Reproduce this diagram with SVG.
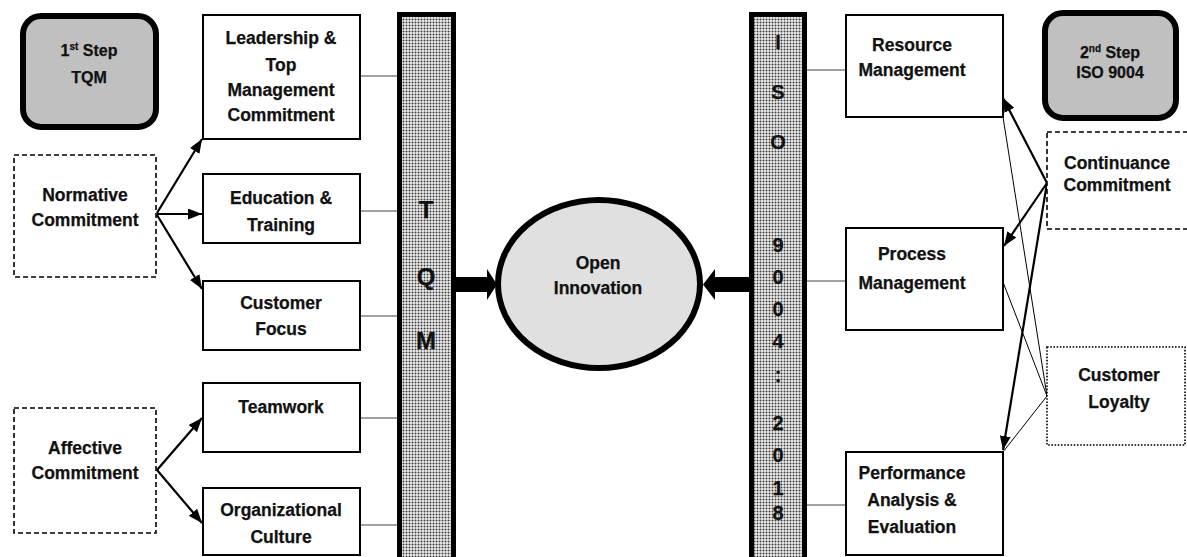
<svg xmlns="http://www.w3.org/2000/svg" width="1187" height="557" viewBox="0 0 1187 557">
<defs>
<pattern id="dots" width="3" height="3" patternUnits="userSpaceOnUse"><rect width="3" height="3" fill="#eeeeee"/><circle cx="1.5" cy="1.5" r="1" fill="#3a3a3a"/></pattern>
<marker id="ah" viewBox="0 0 14 11" refX="14" refY="5.5" markerWidth="14" markerHeight="11" markerUnits="userSpaceOnUse" orient="auto"><path d="M0,0 L14,5.5 L0,11 z" fill="#000"/></marker>
</defs>
<style>
text{font-family:"Liberation Sans",Arial,sans-serif;font-weight:bold;font-size:17.5px;text-anchor:middle;fill:#111;stroke:#111;stroke-width:0.25}
.box{fill:#fff;stroke:#000;stroke-width:2}
.dash{fill:#fff;stroke:#000;stroke-width:1.6;stroke-dasharray:5,3}
.dot{fill:#fff;stroke:#000;stroke-width:1.6;stroke-dasharray:1.6,1.6}
.step{fill:#c0c0c0;stroke:#000;stroke-width:6}
.bar{fill:url(#dots);stroke:#000;stroke-width:5}
.tie{stroke:#444;stroke-width:1.2;fill:none}
.arr{stroke:#000;stroke-width:2.2;fill:none;marker-end:url(#ah)}
.thin{stroke:#000;stroke-width:1;fill:none}
text.sm{font-size:16px}
text.big{font-size:24px}
text.iso{font-size:20px}
tspan.sup{font-size:10px}
</style>

<g id="connectors">
<line class="tie" x1="360" y1="76" x2="398" y2="76"/>
<line class="tie" x1="360" y1="211" x2="398" y2="211"/>
<line class="tie" x1="360" y1="316" x2="398" y2="316"/>
<line class="tie" x1="360" y1="418" x2="398" y2="418"/>
<line class="tie" x1="360" y1="525" x2="398" y2="525"/>
<line class="tie" x1="806" y1="70" x2="845" y2="70"/>
<line class="tie" x1="806" y1="281" x2="845" y2="281"/>
<line class="tie" x1="806" y1="505" x2="845" y2="505"/>
<path class="arr" d="M157,213 L202,139"/>
<path class="arr" d="M157,214 L202,214"/>
<path class="arr" d="M157,215 L202,289"/>
<path class="arr" d="M157,470 L202,418"/>
<path class="arr" d="M157,470 L202,523"/>
<path class="arr" d="M1047,183 L1003,98"/>
<path class="arr" d="M1047,183 L1004,246"/>
<path class="arr" d="M1047,183 L1003,450"/>
<line class="thin" x1="1003" y1="117" x2="1047" y2="396"/>
<line class="thin" x1="1003" y1="282" x2="1047" y2="396"/>
<line class="thin" x1="1003" y1="452" x2="1047" y2="396"/>
<polygon points="455,277 487,277 487,269 497,284.5 487,300 487,292 455,292" fill="#000"/>
<polygon points="750,277 715,277 715,269 703,284.5 715,300 715,292 750,292" fill="#000"/>
</g>

<g id="step1"><rect class="step" x="23" y="16" width="133" height="111" rx="18"/>
<text class="sm" x="89" y="56">1<tspan class="sup" dy="-6">st</tspan><tspan dy="6"> Step</tspan></text>
<text class="sm" x="89" y="83">TQM</text></g>

<g id="normative"><rect class="dash" x="14" y="155" width="142" height="122"/>
<text x="85" y="201">Normative</text><text x="85" y="226">Commitment</text></g>

<g id="affective"><rect class="dash" x="14" y="408" width="142" height="125"/>
<text x="85" y="454">Affective</text><text x="85" y="479">Commitment</text></g>

<g id="leadership"><rect class="box" x="203" y="15" width="157" height="124"/>
<text x="281" y="44">Leadership &amp;</text><text x="281" y="71">Top</text><text x="281" y="96">Management</text><text x="281" y="121">Commitment</text></g>

<g id="education"><rect class="box" x="203" y="174" width="157" height="69"/>
<text x="281" y="204">Education &amp;</text><text x="281" y="231">Training</text></g>

<g id="customerfocus"><rect class="box" x="203" y="281" width="157" height="69"/>
<text x="281" y="309">Customer</text><text x="281" y="335">Focus</text></g>

<g id="teamwork"><rect class="box" x="203" y="383" width="157" height="69"/>
<text x="281" y="413">Teamwork</text></g>

<g id="culture"><rect class="box" x="203" y="488" width="157" height="67"/>
<text x="281" y="516">Organizational</text><text x="281" y="543">Culture</text></g>

<g id="tqm"><rect class="bar" x="399.5" y="14.5" width="54" height="550"/>
<text class="big" x="426" y="218">T</text><text class="big" x="426" y="285">Q</text><text class="big" x="426" y="349">M</text></g>

<g id="iso"><rect class="bar" x="751.5" y="14.5" width="53" height="550"/>
<text class="iso" x="778" y="49">I</text>
<text class="iso" x="778" y="99">S</text>
<text class="iso" x="778" y="149">O</text>
<text class="iso" x="778" y="252">9</text>
<text class="iso" x="778" y="284">0</text>
<text class="iso" x="778" y="316">0</text>
<text class="iso" x="778" y="348">4</text>
<text class="iso" x="778" y="382">:</text>
<text class="iso" x="778" y="430">2</text>
<text class="iso" x="778" y="462">0</text>
<text class="iso" x="778" y="495">1</text>
<text class="iso" x="778" y="520">8</text></g>

<g id="open"><ellipse cx="599" cy="284" rx="101" ry="84" fill="#e0e0e0" stroke="#000" stroke-width="6"/>
<text x="598" y="269">Open</text><text x="598" y="294">Innovation</text></g>

<g id="resource"><rect class="box" x="846" y="15" width="157" height="102"/>
<text x="912" y="51">Resource</text><text x="912" y="76">Management</text></g>

<g id="process"><rect class="box" x="846" y="228" width="157" height="102"/>
<text x="912" y="260">Process</text><text x="912" y="289">Management</text></g>

<g id="performance"><rect class="box" x="846" y="452" width="157" height="103"/>
<text x="912" y="479">Performance</text><text x="912" y="506">Analysis &amp;</text><text x="912" y="533">Evaluation</text></g>

<g id="step2"><rect class="step" x="1045" y="13" width="131" height="105" rx="18"/>
<text class="sm" x="1110" y="58">2<tspan class="sup" dy="-6">nd</tspan><tspan dy="6"> Step</tspan></text>
<text class="sm" x="1110" y="78">ISO 9004</text></g>

<g id="continuance"><rect class="dash" x="1047" y="132" width="150" height="97"/>
<text x="1117" y="169">Continuance</text><text x="1117" y="191">Commitment</text></g>

<g id="loyalty"><rect class="dot" x="1047" y="347" width="138" height="98"/>
<text x="1119" y="381">Customer</text><text x="1119" y="408">Loyalty</text></g>
</svg>
